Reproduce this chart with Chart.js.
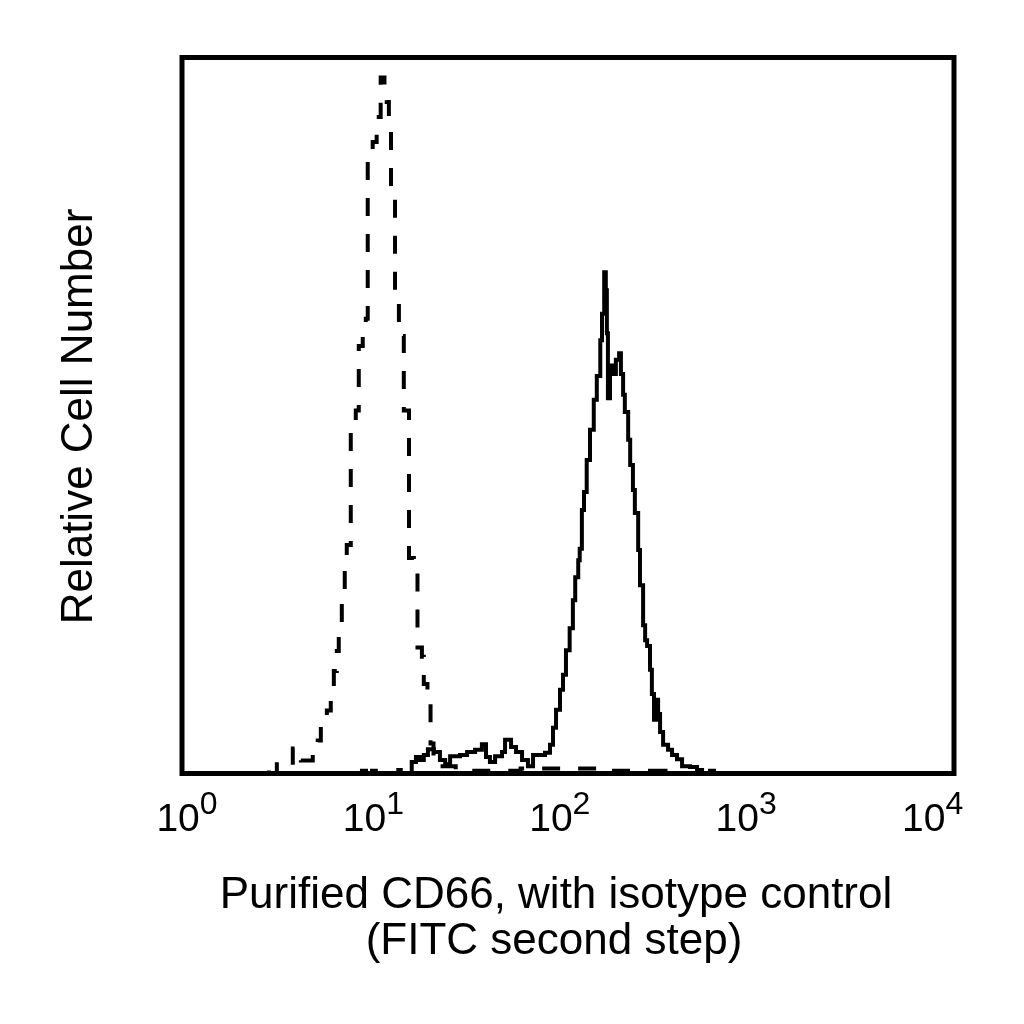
<!DOCTYPE html>
<html>
<head>
<meta charset="utf-8">
<script src="https://cdn.jsdelivr.net/npm/chart.js@4"></script>
<style>
  html, body { margin: 0; padding: 0; background: #fff; }
  canvas { display: block; }
</style>
</head>
<body>
<canvas id="myChart" width="1024" height="1024"></canvas>
<script>
// isotype control (dashed), histogram steps: fluorescence value where the bin starts, relative count
const isotypeX = [1, 2.82, 3.10, 3.75, 4.13, 4.76, 5.05, 5.24, 5.63, 5.90, 6.12, 6.34, 6.49, 6.73, 6.97,
  7.14, 7.49, 7.95, 8.24, 8.64, 8.96, 9.17, 9.73, 10.2, 10.7, 11.2, 11.5, 11.8, 12.1, 12.7,
  13.3, 14.1, 15.0, 15.9, 16.6, 17.5, 17.9, 18.7, 19.4, 20.1, 21.1, 26.2, 56.8, 147, 320, 10000];
const isotypeY = [0, 1.7, 0, 3.5, 1.8, 3.2, 4.6, 6.9, 8.8, 11.8, 14.3, 17.1, 20.8, 24.6, 28.5,
  31.9, 49.3, 50.7, 59.7, 61.1, 63.5, 86.8, 88.2, 91.7, 97.2, 95.1, 93.8, 91.0, 80.6, 66.0,
  61.1, 50.7, 30.1, 29.2, 17.6, 16.3, 12.5, 9.7, 4.2, 2.4, 1.0, 0.4, 0.7, 0.4, 0, 0];

// purified CD66 (solid)
const cd66X = [1, 8.56, 8.98, 9.65, 10.1, 13.2, 13.6, 15.5, 16.3, 17.1, 17.9, 18.8, 20.2, 21.7, 23.1,
  24.5, 27.6, 30.0, 33.0, 35.8, 37.6, 39.4, 41.9, 45.5, 47.2, 50.7, 53.8, 57.8, 62.0, 65.9,
  76.0, 80.7, 83.6, 86.7, 90.9, 94.2, 97.6, 102, 106, 109, 113, 115, 118, 121, 125,
  130, 136, 141, 147, 150, 154, 157, 159, 161, 165, 171, 177, 184, 188, 193,
  197, 205, 210, 217, 222, 231, 236, 245, 251, 257, 266, 272, 279, 286, 293,
  300, 311, 330, 346, 367, 390, 429, 466, 495, 544, 571, 10000];
const cd66Y = [0, 0.4, 0, 0.4, 0, 0.5, 0, 1.6, 2.3, 1.9, 2.6, 3.4, 3.0, 1.9, 1.3,
  2.4, 2.6, 3.0, 3.3, 4.1, 2.3, 1.6, 2.4, 3.0, 4.7, 3.7, 3.0, 1.9, 1.0, 2.6,
  2.9, 4.0, 6.4, 8.9, 11.7, 13.8, 17.2, 20.3, 24.2, 27.4, 29.8, 31.4, 36.8, 39.3, 43.8,
  48.0, 52.2, 55.5, 60.5, 64.2, 70.0, 67.5, 61.5, 52.4, 57.0, 55.8, 57.8, 58.7, 55.8, 52.9,
  50.5, 46.6, 43.1, 39.6, 36.4, 31.2, 26.3, 20.7, 18.6, 17.8, 14.5, 11.1, 7.5, 10.3, 8.3,
  5.8, 4.0, 3.3, 2.6, 2.0, 1.0, 0.9, 0.5, 0, 0.4, 0, 0];

const tickExponents = [0, 1, 2, 3, 4];
const xTitleLines = ['Purified CD66, with isotype control', '(FITC second step)'];
const yTitle = 'Relative Cell Number';

const FONT = '"Liberation Sans", Arial, sans-serif';

const toPoints = (xs, ys) => xs.map((x, i) => ({ x: x, y: ys[i] }));

// box, log tick labels with superscripts, axis titles
const framePlugin = {
  id: 'frame',
  afterDraw(chart) {
    const ctx = chart.ctx;
    const area = chart.chartArea;
    const xScale = chart.scales.x;
    ctx.save();
    ctx.strokeStyle = '#000';
    ctx.lineWidth = 5;
    ctx.strokeRect(area.left, area.top, area.right - area.left, area.bottom - area.top);

    ctx.fillStyle = '#000';
    ctx.textBaseline = 'alphabetic';
    ctx.textAlign = 'left';
    tickExponents.forEach(e => {
      const px = xScale.getPixelForValue(Math.pow(10, e));
      ctx.font = '39px ' + FONT;
      const baseW = ctx.measureText('10').width;
      ctx.font = '32px ' + FONT;
      const supW = ctx.measureText(String(e)).width;
      const left = px + 5 - 6.6 * e - (baseW + supW) / 2;
      ctx.font = '39px ' + FONT;
      ctx.fillText('10', left, area.bottom + 57);
      ctx.font = '32px ' + FONT;
      ctx.fillText(String(e), left + baseW, area.bottom + 40);
    });

    ctx.font = '44px ' + FONT;
    ctx.textAlign = 'center';
    const cx = (area.left + area.right) / 2 - 12;
    ctx.fillText(xTitleLines[0], cx, area.bottom + 134);
    ctx.fillText(xTitleLines[1], cx - 2, area.bottom + 180);

    ctx.translate(area.left - 90, (area.top + area.bottom) / 2 + 1);
    ctx.rotate(-Math.PI / 2);
    ctx.fillText(yTitle, 0, 0);
    ctx.restore();
  }
};

const ctx = document.getElementById('myChart').getContext('2d');
const chart = new Chart(ctx, {
  type: 'line',
  data: {
    datasets: [{
      label: 'Isotype control',
      data: toPoints(isotypeX, isotypeY),
      borderColor: '#000',
      borderWidth: 4,
      borderDash: [18, 18],
      stepped: true,
      pointRadius: 0,
      fill: false
    }, {
      label: 'Purified CD66',
      data: toPoints(cd66X, cd66Y),
      borderColor: '#000',
      borderWidth: 4,
      stepped: true,
      pointRadius: 0,
      fill: false
    }]
  },
  options: {
    responsive: false,
    animation: false,
    devicePixelRatio: 1,
    layout: { padding: { left: 182, right: 70, top: 57.5, bottom: 250.5 } },
    plugins: { legend: { display: false }, tooltip: { enabled: false } },
    scales: {
      x: { type: 'logarithmic', min: 1, max: 10000, display: false },
      y: { type: 'linear', min: 0, max: 100, display: false }
    }
  },
  plugins: [framePlugin]
});
</script>
</body>
</html>
